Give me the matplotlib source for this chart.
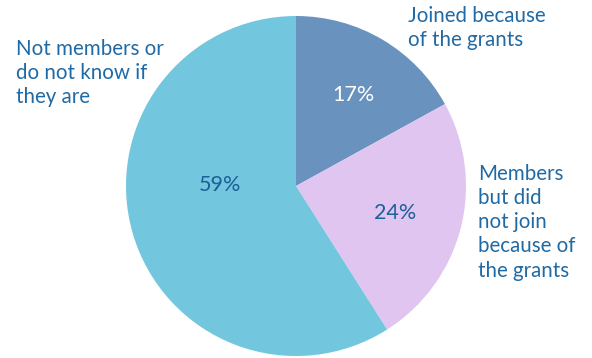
import matplotlib.pyplot as plt

shares = [17, 24, 59]
pct_labels = ['17%', '24%', '59%']
names = ['Joined because\nof the grants',
         'Members\nbut did\nnot join\nbecause of\nthe grants',
         'Not members or\ndo not know if\nthey are']
colors = ['#6a92bf', '#dfc5ef', '#72c6de']
pct_colors = ['white', '#1d5f99', '#1d5f99']

plt.rcParams['font.family'] = ['Lato', 'DejaVu Sans']

fig = plt.figure(figsize=(5.92, 3.58), dpi=100)
ax = fig.add_axes([0, 0, 1, 1])

cx, cy, r = 296, 172, 170
ax.pie(shares, colors=colors, startangle=90, counterclock=False,
       radius=r, center=(cx, cy), frame=True)
ax.set_xlim(0, 592)
ax.set_ylim(0, 358)
ax.set_aspect('equal')
ax.axis('off')

# percentage labels inside slices
pct_pos = [(353, 263), (395, 145), (220, 173)]
for (x, y), t, c in zip(pct_pos, pct_labels, pct_colors):
    ax.text(x, y, t, color=c, fontsize=15.5, ha='center', va='center')

# outer category labels
name_pos = [(408, 352), (478, 194), (16, 319)]
for (x, y), t in zip(name_pos, names):
    ax.text(x, y, t, color='#1f6aa5', fontsize=14.8, ha='left', va='top',
            linespacing=1.26)

fig.savefig('out.png', dpi=100)
